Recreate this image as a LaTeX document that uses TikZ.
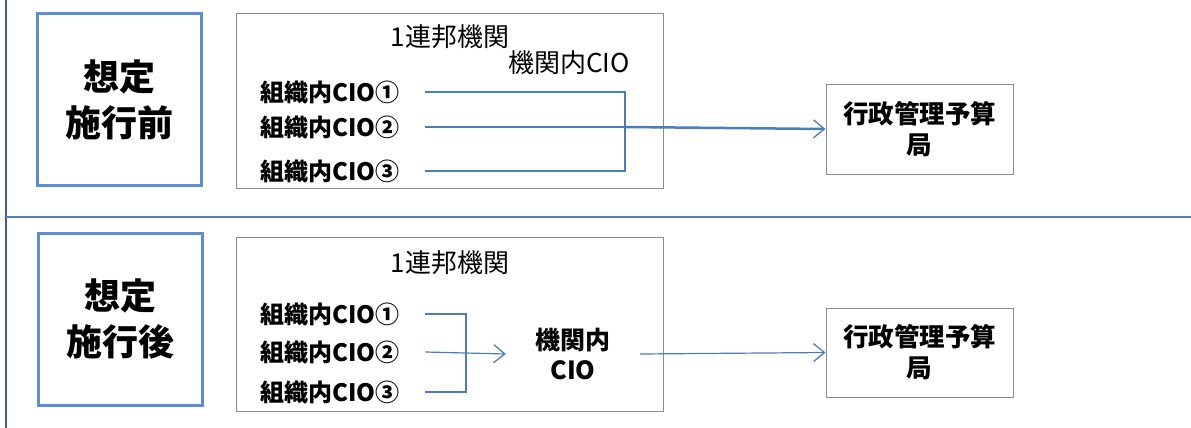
\documentclass[tikz,border=0pt]{standalone}
\usepackage{fontspec}
\setmainfont{Noto Sans CJK JP}
\usepackage{xcolor}
\usetikzlibrary{arrows.meta}

\definecolor{boxblue}{RGB}{91,142,214}
\definecolor{lineblue}{RGB}{74,126,187}
\definecolor{divider}{RGB}{79,129,189}
\definecolor{leftbar}{RGB}{64,96,140}
\definecolor{boxgray}{RGB}{140,140,140}

\begin{document}
\begin{tikzpicture}[x=1pt, y=-1pt,
	phase/.style={draw=boxblue, line width=3pt, minimum width=164pt, minimum height=172pt, align=center, font=\fontsize{36}{46}\selectfont\bfseries},
	agency/.style={draw=boxgray, line width=1pt, minimum width=427pt, minimum height=174pt},
	cio/.style={anchor=west, inner sep=0pt, text width=165pt, align=left, font=\fontsize{24}{26}\selectfont\bfseries},
	omb/.style={draw=boxgray, line width=1pt, minimum width=187pt, minimum height=90pt, align=center, font=\fontsize{25.5}{31}\selectfont\bfseries},
	label/.style={font=\fontsize{26}{30}\selectfont, align=center},
	link/.style={draw=lineblue, line width=1.2pt},
	tip/.style={-{Straight Barb[length=11pt,width=18pt,line width=1.3pt]}}]
	\useasboundingbox (0,0) rectangle (1191,428);
	
	%frame
	\draw[leftbar, line width=2.5pt] (6,0) -- (6,428);
	\draw[divider, line width=2pt] (6,217) -- (1191,217);
	
	%nodes (before)
	\node (before) [phase] at (119.5,99.5)          {想定\\施行前};
	\node (fedA)   [agency] at (449.5,101)          {};
	\node (nameA)  [label] at (450,37)              {1連邦機関};
	\node (headA)  [label] at (569,63)              {機関内CIO};
	\node (cioA1)  [cio] at (260,92)                {組織内CIO①};
	\node (cioA2)  [cio] at (260,127)               {組織内CIO②};
	\node (cioA3)  [cio] at (260,171)               {組織内CIO③};
	\coordinate (busA) at (625,127);
	\node (ombA)   [omb] at (919.5,129)             {行政管理予算\\局};
	
	%nodes (after)
	\node (after)  [phase] at (120.5,319)           {想定\\施行後};
	\node (fedB)   [agency] at (449.5,324)          {};
	\node (nameB)  [label] at (450,263)             {1連邦機関};
	\node (cioB1)  [cio] at (260,314)               {組織内CIO①};
	\node (cioB2)  [cio] at (260,352)               {組織内CIO②};
	\node (cioB3)  [cio] at (260,392)               {組織内CIO③};
	\coordinate (busB) at (466,352);
	\node (headB)  [label, font=\fontsize{25}{30}\selectfont\bfseries, minimum width=134pt] at (573,354) {機関内\\CIO};
	\node (ombB)   [omb, minimum height=89pt] at (919.5,352.5) {行政管理予算\\局};
	
	%links
	\draw[link] (cioA1.east) -| (busA) |- (cioA3.east);
	\draw[link] (cioA2.east) -- (busA);
	\draw[link, line width=2.5pt, tip] (busA) -- (ombA.west);
	
	\draw[link] (cioB1.east) -| (busB) |- (cioB3.east);
	\draw[link, tip] (cioB2.east) -- (headB.west);
	\draw[link, tip] (headB.east) -- (ombB.west);
\end{tikzpicture}
\end{document}
